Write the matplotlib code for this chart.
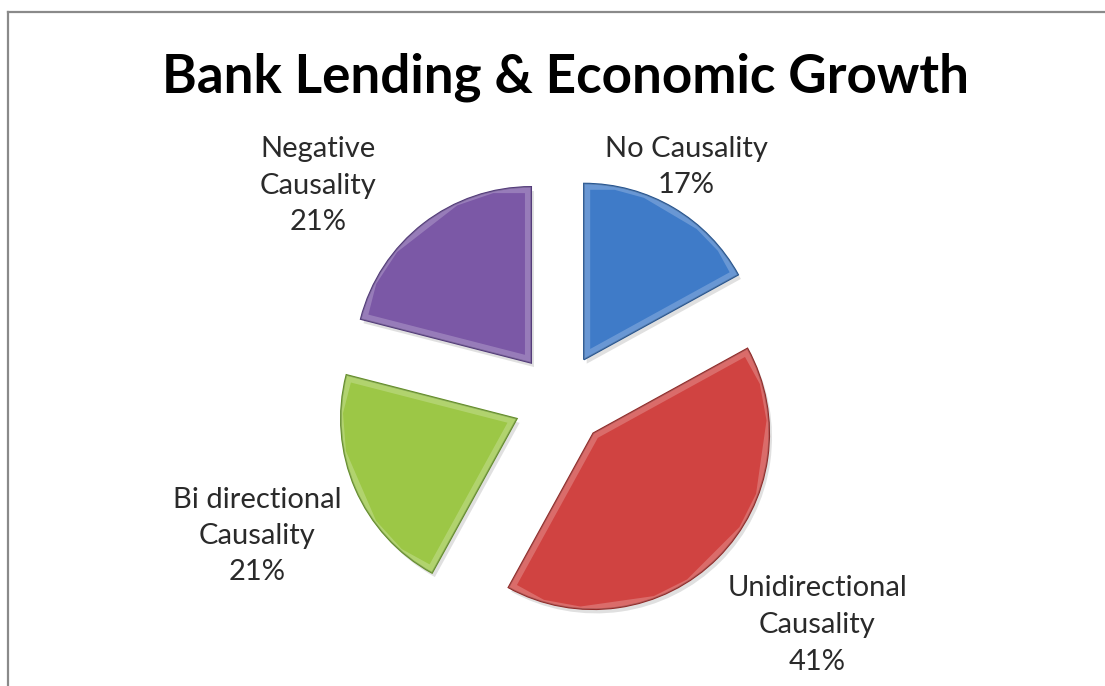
import matplotlib.pyplot as plt
import matplotlib.patheffects as pe
from matplotlib.lines import Line2D

# causality study results, clockwise from 12 o'clock
categories = ['No Causality', 'Unidirectional\nCausality',
              'Bi directional\nCausality', 'Negative\nCausality']
shares = [17, 41, 21, 21]
colors = ['#3f7bc8', '#d04341', '#9cc746', '#7b58a6']
edges = ['#1f4f8c', '#8e2422', '#5f8a22', '#4d3475']

W, H = 1105, 686
fig = plt.figure(figsize=(W / 100, H / 100), dpi=100)
ax = fig.add_axes([0, 0, 1, 1])

R = 176
# explode offsets are in data units (pixels here), not radius fractions
wedges, _ = ax.pie(shares, colors=colors, startangle=90, counterclock=False,
                   radius=R, center=(560, H - 400), explode=[47] * 4,
                   wedgeprops=dict(linewidth=1.2))

for w, ec in zip(wedges, edges):
    w.set_edgecolor(ec)
    w.set_path_effects([pe.SimplePatchShadow(offset=(2, -3), alpha=0.18,
                                             shadow_rgbFace='#555555'),
                        pe.Normal()])
    # soft bevel: light band kept inside the slice
    band = plt.Polygon(w.get_path().vertices, closed=True, fc='none',
                       ec='white', lw=9, alpha=0.22,
                       transform=w.get_transform())
    ax.add_patch(band)
    band.set_clip_path(w)

ax.set_xlim(0, W)
ax.set_ylim(0, H)
ax.set_aspect('equal')
ax.axis('off')

# chart frame: only the left and top edges fall inside the image
fig.add_artist(Line2D([8 / W, 8 / W], [0, 1 - 12 / H], color='#8a8a8a',
                      lw=1.6, transform=fig.transFigure))
fig.add_artist(Line2D([8 / W, 1], [1 - 12 / H, 1 - 12 / H], color='#8a8a8a',
                      lw=1.6, transform=fig.transFigure))

ax.text(565, H - 92, 'Bank Lending & Economic Growth', ha='center',
        va='baseline', fontsize=38.2, fontweight='bold', family='Lato',
        color='black')

label_xy = [(686, H - 167), (817, H - 625), (257, H - 536), (318, H - 186)]
for name, v, (x, y) in zip(categories, shares, label_xy):
    ax.text(x, y, f'{name}\n{v}%', ha='center', va='center', ma='center',
            fontsize=21, family='Lato', color='#2a2a2a', linespacing=1.5)

fig.savefig('out.png', dpi=100, facecolor='white')
